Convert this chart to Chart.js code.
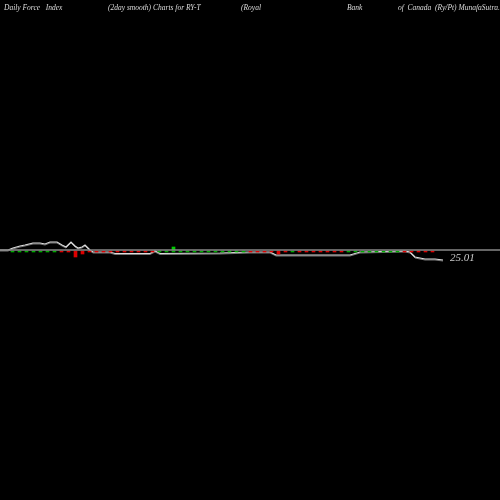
<!DOCTYPE html>
<html><head><meta charset="utf-8">
<script src="https://cdn.jsdelivr.net/npm/chart.js@4"></script>
<style>
html,body{margin:0;padding:0;background:#000;width:500px;height:500px;overflow:hidden}
#wrap{position:absolute;left:0;top:0;width:500px;height:500px}
.t{position:absolute;top:3px;font:italic 7.5px "Liberation Serif",serif;color:#ddd;white-space:nowrap}
#val{position:absolute;left:450px;top:251px;font:italic 11px "Liberation Serif",serif;color:#ccc}
</style></head><body>
<div id="wrap"><canvas id="c" width="500" height="500"></canvas></div>
<div class="t" style="left:4px">Daily Force&nbsp;&nbsp; Index</div>
<div class="t" style="left:108px">(2day smooth) Charts for RY-T</div>
<div class="t" style="left:241px">(Royal</div>
<div class="t" style="left:347px">Bank</div>
<div class="t" style="left:398px">of&nbsp; Canada&nbsp; (Ry/Pt) MunafaSutra.com</div>
<div id="val">25.01</div>
<script>
const lineX=[0,8,13,20,25,33,40,45,50,57,62,66,71,75,78,82,85,90,93,110,115,150,155,160,220,250,270,276,300,350,360,405,410,415,425,435,443];
const lineY=[0,0,2,4,5,7,7,6,8,8,5,3,8,4,2,3,5,0,-2,-2,-3.5,-3.5,-1,-3.5,-3,-2,-2,-5,-5,-5,-2,-1,-2,-7,-9,-9,-10];
const barX=[];const barLow=[];const barHigh=[];const barColor=[];
const greenRanges=[[10,60],[157,250],[290,300],[345,405]];
for(let x=14;x<=440;x+=7){barX.push(x);
 const g=greenRanges.some(r=>x>=r[0]&&x<=r[1]);
 barColor.push(g?'#0a0':'#d00');barLow.push(-2);barHigh.push(-1);}
const special={79:[-7,-1],86:[-4,-1],279:[-4,-1]};
barX.forEach((x,i)=>{for(const k in special){if(Math.abs(x-k)<4){barLow[i]=special[k][0];barHigh[i]=special[k][1];}}});
const gx=[172];const gLow=[0];const gHigh=[3];
new Chart(document.getElementById('c'),{
 data:{datasets:[
  {type:'line',data:[{x:0,y:0},{x:500,y:0}],borderColor:'#888',borderWidth:1.5,pointRadius:0},
  {type:'bar',data:barX.map((x,i)=>({x:x,y:[barLow[i],barHigh[i]]})),backgroundColor:barColor,barThickness:3},
  {type:'bar',data:gx.map((x,i)=>({x:x,y:[gLow[i],gHigh[i]]})),backgroundColor:'#0c0',barThickness:3},
  {type:'line',data:lineX.map((x,i)=>({x:x,y:lineY[i]})),borderColor:'#ddd',borderWidth:1.2,pointRadius:0,tension:0},
  {type:'line',data:lineX.map((x,i)=>({x:x,y:lineY[i]-1})),borderColor:'#777',borderWidth:1,pointRadius:0,tension:0}
 ]},
 options:{responsive:false,animation:false,layout:{padding:0},
  plugins:{legend:{display:false},tooltip:{enabled:false}},
  scales:{x:{type:'linear',min:0,max:500,display:false,offset:false},
          y:{min:-250,max:250,display:false}}}
});
</script></body></html>
